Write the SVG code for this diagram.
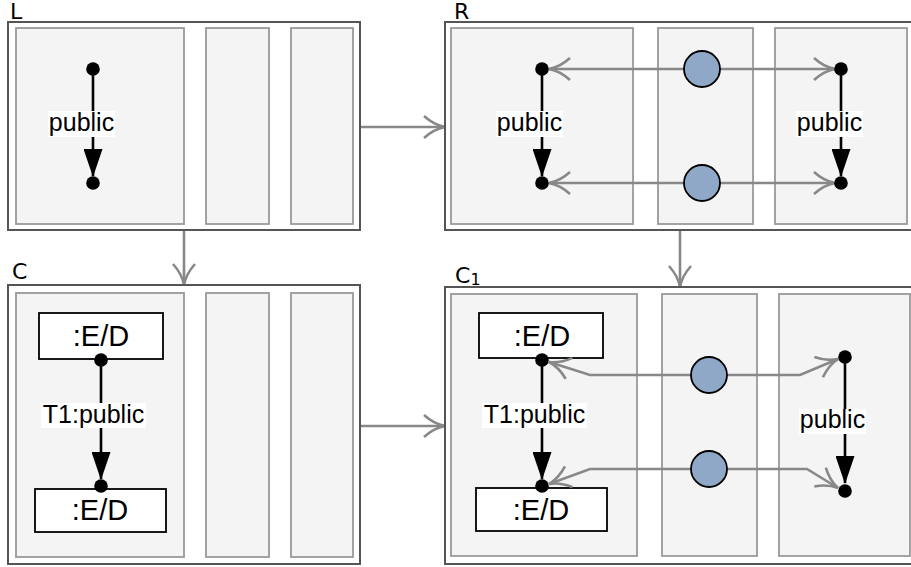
<svg xmlns="http://www.w3.org/2000/svg" width="911" height="567" viewBox="0 0 911 567">
<style>
.outer{fill:#fff;stroke:#555;stroke-width:2}
.panel{fill:#f4f4f4;stroke:#999;stroke-width:1.8}
.title{font-family:"DejaVu Sans",sans-serif;font-size:22px;fill:#000}
.lbl{font-family:"Liberation Sans",Arial,sans-serif;font-size:25px;fill:#000;text-anchor:middle}
.ed{font-family:"Liberation Sans",Arial,sans-serif;font-size:29px;fill:#000;text-anchor:middle}
.lblbg{fill:#fff;stroke:none}
.edbox{fill:#fff;stroke:#000;stroke-width:1.8}
.dot{fill:#000}
.edge{stroke:#000;stroke-width:2.6;fill:none;marker-end:url(#tri)}
.map{stroke:#888;stroke-width:2.6;fill:none;marker-end:url(#chev)}
.obj{fill:#8fa8c8;stroke:#000;stroke-width:1.8}
</style>
<defs>
<marker id="tri" markerUnits="userSpaceOnUse" viewBox="0 0 28 19" markerWidth="28" markerHeight="19" refX="27" refY="9.5" orient="auto">
<path d="M0,0 L28,9.5 L0,19 z" fill="#000"/>
</marker>
<marker id="chev" markerUnits="userSpaceOnUse" viewBox="-2 -2 26 26" markerWidth="26" markerHeight="26" refX="21" refY="11" orient="auto">
<path d="M0,0 Q10,9 21,11 Q10,13 0,22" fill="none" stroke="#888" stroke-width="2.6"/>
</marker>
</defs>

<g id="connectors">
<path class="map" d="M360,127 L445,127"/>
<path class="map" d="M360,426 L445,426"/>
<path class="map" d="M184,230 L184,285"/>
<path class="map" d="M680,230 L680,287"/>
</g>

<g id="L">
<rect class="outer" x="8" y="22" width="352" height="208"/>
<rect class="panel" x="16" y="28" width="168" height="196"/>
<rect class="panel" x="206" y="28" width="63" height="196"/>
<rect class="panel" x="291" y="28" width="62" height="196"/>
<text class="title" x="10" y="19">L</text>
<path class="edge" d="M93,69 L93,176"/>
<circle class="dot" cx="93" cy="69" r="6.8"/>
<circle class="dot" cx="93" cy="183" r="6.8"/>
<rect class="lblbg" x="48" y="111" width="67" height="26"/>
<text class="lbl" x="81.5" y="131">public</text>
</g>

<g id="R">
<rect class="outer" x="445" y="22" width="470" height="208"/>
<rect class="panel" x="451" y="28" width="182" height="196"/>
<rect class="panel" x="658" y="28" width="95" height="196"/>
<rect class="panel" x="775" y="28" width="132" height="196"/>
<text class="title" x="454" y="19">R</text>
<path class="map" d="M684,69 L549,69"/>
<path class="map" d="M720,69 L835,69"/>
<path class="map" d="M684,183 L549,183"/>
<path class="map" d="M720,183 L835,183"/>
<path class="edge" d="M542,69 L542,176"/>
<path class="edge" d="M841,69 L841,176"/>
<circle class="dot" cx="542" cy="69" r="6.8"/>
<circle class="dot" cx="542" cy="183" r="6.8"/>
<circle class="dot" cx="841" cy="69" r="6.8"/>
<circle class="dot" cx="841" cy="183" r="6.8"/>
<circle class="obj" cx="702" cy="69" r="18"/>
<circle class="obj" cx="702" cy="183" r="18"/>
<rect class="lblbg" x="496" y="111" width="67" height="26"/>
<text class="lbl" x="529.5" y="131">public</text>
<rect class="lblbg" x="796" y="111" width="67" height="26"/>
<text class="lbl" x="829.5" y="131">public</text>
</g>

<g id="C">
<rect class="outer" x="8" y="285" width="352" height="279"/>
<rect class="panel" x="16" y="293" width="168" height="264"/>
<rect class="panel" x="206" y="293" width="63" height="264"/>
<rect class="panel" x="291" y="293" width="62" height="264"/>
<text class="title" x="12" y="279">C</text>
<rect class="edbox" x="39" y="313" width="124" height="46"/>
<text class="ed" x="101" y="346">:E/D</text>
<rect class="edbox" x="35" y="489" width="131" height="43"/>
<text class="ed" x="100" y="520">:E/D</text>
<path class="edge" d="M101,360 L101,479"/>
<circle class="dot" cx="101" cy="360" r="6.8"/>
<circle class="dot" cx="101" cy="486" r="6.8"/>
<rect class="lblbg" x="41" y="403" width="105" height="25"/>
<text class="lbl" x="93.5" y="423">T1:public</text>
</g>

<g id="C1">
<rect class="outer" x="445" y="287" width="470" height="277"/>
<rect class="panel" x="451" y="294" width="186" height="262"/>
<rect class="panel" x="662" y="294" width="95" height="262"/>
<rect class="panel" x="779" y="294" width="131" height="262"/>
<text class="title" x="455" y="283">C<tspan font-size="16" dy="2">1</tspan></text>
<rect class="edbox" x="479" y="313" width="124" height="45"/>
<text class="ed" x="542" y="346">:E/D</text>
<rect class="edbox" x="476" y="488" width="131" height="43"/>
<text class="ed" x="541" y="520">:E/D</text>
<path class="map" d="M691,375 L590,375 L549,362"/>
<path class="map" d="M727,375 L800,375 L838,359"/>
<path class="map" d="M691,469 L590,469 L549,484"/>
<path class="map" d="M727,469 L807,469 L838,488"/>
<path class="edge" d="M542,360 L542,479"/>
<path class="edge" d="M845,357 L845,483"/>
<circle class="dot" cx="542" cy="360" r="6.8"/>
<circle class="dot" cx="542" cy="486" r="6.8"/>
<circle class="dot" cx="845" cy="357" r="6.8"/>
<circle class="dot" cx="845" cy="491" r="6.8"/>
<circle class="obj" cx="709" cy="375" r="18"/>
<circle class="obj" cx="709" cy="469" r="18"/>
<rect class="lblbg" x="482" y="403" width="105" height="25"/>
<text class="lbl" x="534.5" y="423">T1:public</text>
<rect class="lblbg" x="799" y="409" width="67" height="25"/>
<text class="lbl" x="832.5" y="428">public</text>
</g>
</svg>
